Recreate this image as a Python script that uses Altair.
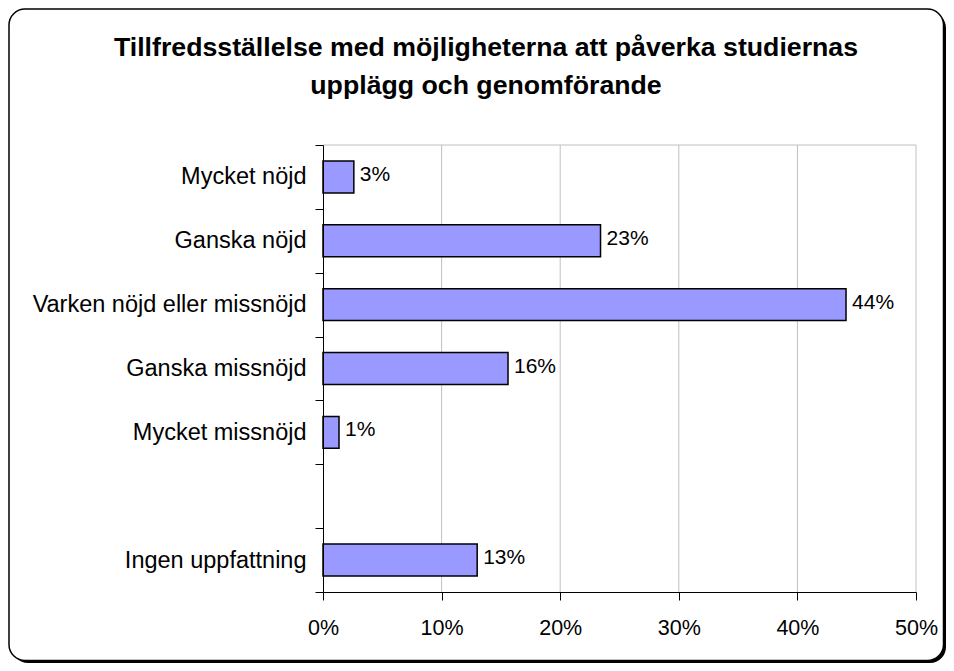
import altair as alt
import pandas as pd

title_lines = ["Tillfredsställelse med möjligheterna att påverka studiernas",
               "upplägg och genomförande"]
categories = ["Mycket nöjd", "Ganska nöjd", "Varken nöjd eller missnöjd",
              "Ganska missnöjd", "Mycket missnöjd", "", "Ingen uppfattning"]
bar_cats = ["Mycket nöjd", "Ganska nöjd", "Varken nöjd eller missnöjd",
            "Ganska missnöjd", "Mycket missnöjd", "Ingen uppfattning"]
values = [0.026, 0.234, 0.441, 0.156, 0.0135, 0.130]
x_ticks = [0.0, 0.1, 0.2, 0.3, 0.4, 0.5]
grid_vals = [0.1, 0.2, 0.3, 0.4, 0.5]

W, H = 593, 447
PL, PT, PR, PB = 315, 137, 30, 71
FONT = "Liberation Sans, Arial, sans-serif"

bars_df = pd.DataFrame({"cat": bar_cats, "value": values})
grid_df = pd.DataFrame({"g": grid_vals})
one = pd.DataFrame({"k": [0]})

x_scale = alt.Scale(domain=[0, 0.5], nice=False, zero=True)
y_scale = alt.Scale(domain=categories, paddingInner=0, paddingOuter=0)

x_axis = alt.Axis(values=x_ticks, format=".0%", tickSize=8, labelPadding=17,
                  labelFontSize=21.5, labelFont=FONT, labelColor="black",
                  domainColor="black", tickColor="black", grid=False,
                  zindex=1, labelFlush=False, title=None)
y_axis = alt.Axis(tickBand="extent", tickSize=8, labelPadding=9,
                  labelFontSize=23.5, labelFont=FONT, labelColor="black",
                  labelLimit=500, domainColor="black", tickColor="black",
                  zindex=1, title=None)

shadow = alt.Chart(one).mark_rect(cornerRadius=16, fill="black").encode(
    x=alt.value(-PL + 4), x2=alt.value(W + PR),
    y=alt.value(-PT + 4), y2=alt.value(H + PB))
frame = alt.Chart(one).mark_rect(cornerRadius=16, fill="white", stroke="black",
                                 strokeWidth=1.5).encode(
    x=alt.value(-PL + 1), x2=alt.value(W + PR - 2.5),
    y=alt.value(-PT + 1), y2=alt.value(H + PB - 2.5))

title = alt.Chart(one).mark_text(text=title_lines, fontSize=26.7, font=FONT,
                                 fontWeight="bold", color="black", lineHeight=38,
                                 align="center", baseline="top").encode(
    x=alt.value(163), y=alt.value(-110))

grid = alt.Chart(grid_df).mark_rule(color="#c0c0c0", strokeWidth=1).encode(
    x=alt.X("g:Q", scale=x_scale, axis=x_axis))
top_border = alt.Chart(one).mark_rule(color="#c0c0c0", strokeWidth=1).encode(
    x=alt.value(0), x2=alt.value(W), y=alt.value(0))

bars = alt.Chart(bars_df).mark_bar(fill="#9999FF", stroke="black", strokeWidth=1.5,
                                   height=alt.RelativeBandSize(0.5)).encode(
    x=alt.X("value:Q", scale=x_scale, axis=x_axis),
    y=alt.Y("cat:N", scale=y_scale, sort=categories, axis=y_axis))

labels = alt.Chart(bars_df).mark_text(align="left", baseline="middle", dx=6, dy=-2,
                                      fontSize=21, font=FONT, color="black").encode(
    x=alt.X("value:Q", scale=x_scale, axis=x_axis),
    y=alt.Y("cat:N", scale=y_scale, sort=categories, axis=y_axis),
    text=alt.Text("value:Q", format=".0%"))

chart = alt.layer(shadow, frame, title, grid, top_border, bars, labels).properties(
    width=W, height=H,
    padding={"left": PL, "top": PT, "right": PR, "bottom": PB},
    autosize=alt.AutoSizeParams(type="none"),
).configure_view(stroke=None).configure(background="white")

chart.save("out.html", embed_options={"renderer": "svg", "actions": False})
